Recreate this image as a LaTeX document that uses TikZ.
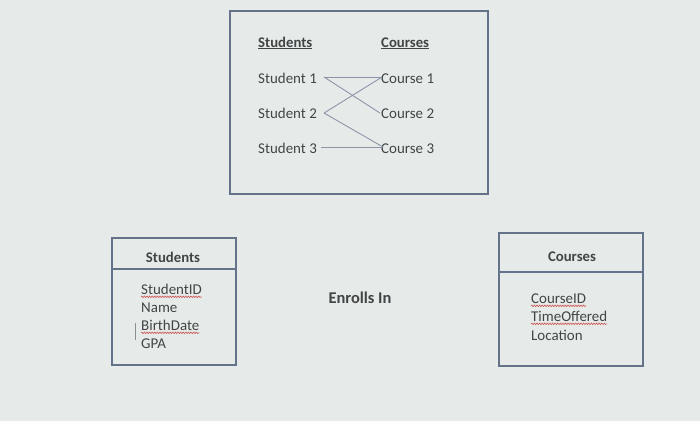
\documentclass[tikz,border=0pt]{standalone}
\usepackage{fontspec}
\setmainfont{Carlito}
\usetikzlibrary{positioning,decorations.pathmorphing}
\definecolor{screen}{RGB}{230,235,233}
\definecolor{ink}{RGB}{66,68,70}
\definecolor{frame}{RGB}{100,114,138}
\definecolor{spell}{RGB}{205,85,85}
\begin{document}
\begin{tikzpicture}[x=1bp,y=-1bp,
    txt/.style={text=ink,font=\fontsize{15}{18}\selectfont,inner sep=0pt},
    head/.style={txt,font=\fontsize{14.8}{18}\selectfont\bfseries},
    box/.style={draw=frame,line width=1.1pt},
    link/.style={draw=frame!75,line width=0.9pt},
    squiggle/.style={draw=spell,line width=0.6pt,decorate,
      decoration={snake,amplitude=0.8pt,segment length=2.6pt}}]
  \fill[screen] (0,0) rectangle (700,421);
  \useasboundingbox (0,0) rectangle (700,421);
  % matching of students and courses
  \draw[box] (230,11) rectangle (488,194);
  \node[head,anchor=base west] (hstu) at (258,47) {\underline{Students}};
  \node[head,anchor=base west] (hcou) at (381,47) {\underline{Courses}};
  \foreach \i/\y in {1/78,2/113,3/148} {
    \node[txt,anchor=base west] (s\i) at (258,\y+5) {Student \i};
    \node[txt,anchor=base west] (c\i) at (381,\y+5) {Course \i};
  }
  \draw[link] ([xshift=7pt,yshift=6pt]s1.base east) -- ([xshift=1pt,yshift=6pt]c1.base west);
  \draw[link] ([xshift=7pt,yshift=6pt]s1.base east) -- ([xshift=-1pt,yshift=5pt]c2.base west);
  \draw[link] ([xshift=7pt,yshift=5pt]s2.base east) -- ([xshift=1pt,yshift=6pt]c1.base west);
  \draw[link] ([xshift=7pt,yshift=5pt]s2.base east) -- ([xshift=2pt,yshift=6pt]c3.base west);
  \draw[link] ([xshift=4pt,yshift=6pt]s3.base east) -- ([xshift=1pt,yshift=6pt]c3.base west);
  % entity tables
  \draw[box] (112,238) rectangle (236,365);
  \draw[box] (112,269) -- (236,269);
  \node[head,anchor=base] (tstu) at (173,262) {Students};
  \node[txt,anchor=base west] (sid) at (141,294) {StudentID};
  \node[txt,anchor=base west] (sname) at (141,312) {Name};
  \node[txt,anchor=base west] (sbirth) at (141,330) {BirthDate};
  \node[txt,anchor=base west] (sgpa) at (141,348) {GPA};
  \draw[ink!60,line width=0.6pt] (135,323) -- (135,340);
  \draw[box] (499,233) rectangle (643,366);
  \draw[box] (499,272) -- (643,272);
  \node[head,anchor=base] (tcou) at (572,261) {Courses};
  \node[txt,anchor=base west] (cid) at (531,303) {CourseID};
  \node[txt,anchor=base west] (ctime) at (531,321) {TimeOffered};
  \node[txt,anchor=base west] (cloc) at (531,340) {Location};
  \foreach \n in {sid,sbirth,cid,ctime}
    \draw[squiggle] ([yshift=-2.8pt]\n.base west) -- ([yshift=-2.8pt]\n.base east);
  \node[head,anchor=base,font=\fontsize{16.5}{20}\selectfont\bfseries] (enr) at (360,303) {Enrolls In};
\end{tikzpicture}
\end{document}
